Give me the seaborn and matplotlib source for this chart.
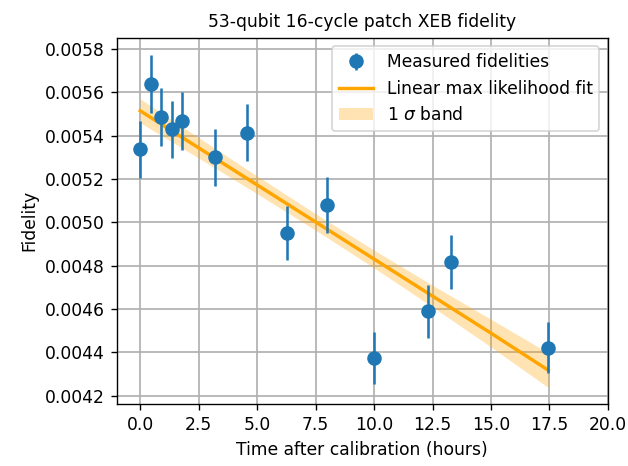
import matplotlib
matplotlib.use("Agg")
import matplotlib.pyplot as plt
import seaborn as sns
import numpy as np
import pandas as pd

# measured XEB fidelities
hours = [0.0, 0.46, 0.91, 1.37, 1.79, 3.22, 4.56, 6.29, 8.00, 10.0, 12.32, 13.28, 17.45]
fidelity = [0.005338, 0.005639, 0.005485, 0.005430, 0.005467, 0.005301, 0.005414,
            0.004951, 0.005081, 0.004375, 0.004589, 0.004817, 0.004421]
fid_err = [0.000131, 0.000134, 0.000133, 0.000132, 0.000134, 0.000131, 0.000133,
           0.000124, 0.000129, 0.000119, 0.000121, 0.000124, 0.000118]

# linear max likelihood fit and its 1 sigma half width
fit_hours = [0.0, 2.5, 5.0, 7.5, 10.0, 12.5, 15.0, 17.45]
fit_vals = [0.005515, 0.005344, 0.005173, 0.005002, 0.004831, 0.004660, 0.004489, 0.004318]
band_half = [0.000055, 0.000047, 0.000041, 0.000038, 0.000041, 0.000050, 0.000064, 0.000080]

fit_df = pd.DataFrame({"t": fit_hours, "f": fit_vals})
lo = np.array(fit_vals) - np.array(band_half)
hi = np.array(fit_vals) + np.array(band_half)

fig, ax = plt.subplots(figsize=(628 / 123, 466 / 123), dpi=123)
fig.subplots_adjust(left=0.186, right=0.968, top=0.919, bottom=0.133)

pts = ax.errorbar(hours, fidelity, yerr=fid_err, fmt="o", color="#1f77b4",
                  markersize=7.5, elinewidth=1.5, label="Measured fidelities", zorder=3)
sns.lineplot(data=fit_df, x="t", y="f", color="orange", linewidth=2,
             label="Linear max likelihood fit", ax=ax, zorder=2)
band = ax.fill_between(fit_hours, lo, hi, color="orange", alpha=0.3, linewidth=0,
                       label=r"1 $\sigma$ band")

ax.set_xlim(-1, 20)
ax.set_ylim(0.004162, 0.005852)
ax.set_xticks(np.arange(0, 20.1, 2.5))
ax.grid(True, color="#b0b0b0", linewidth=1.0)
ax.set_axisbelow(True)

ax.set_title("53-qubit 16-cycle patch XEB fidelity", fontsize=10)
ax.set_xlabel("Time after calibration (hours)")
ax.set_ylabel("Fidelity")

# keep the legend order of the original: points, fit, band
handles, labels = ax.get_legend_handles_labels()
order = [labels.index("Measured fidelities"), labels.index("Linear max likelihood fit"),
         labels.index(r"1 $\sigma$ band")]
ax.legend([handles[i] for i in order], [labels[i] for i in order],
          loc="upper right", fontsize=10)

fig.savefig("out.png", dpi=123)
